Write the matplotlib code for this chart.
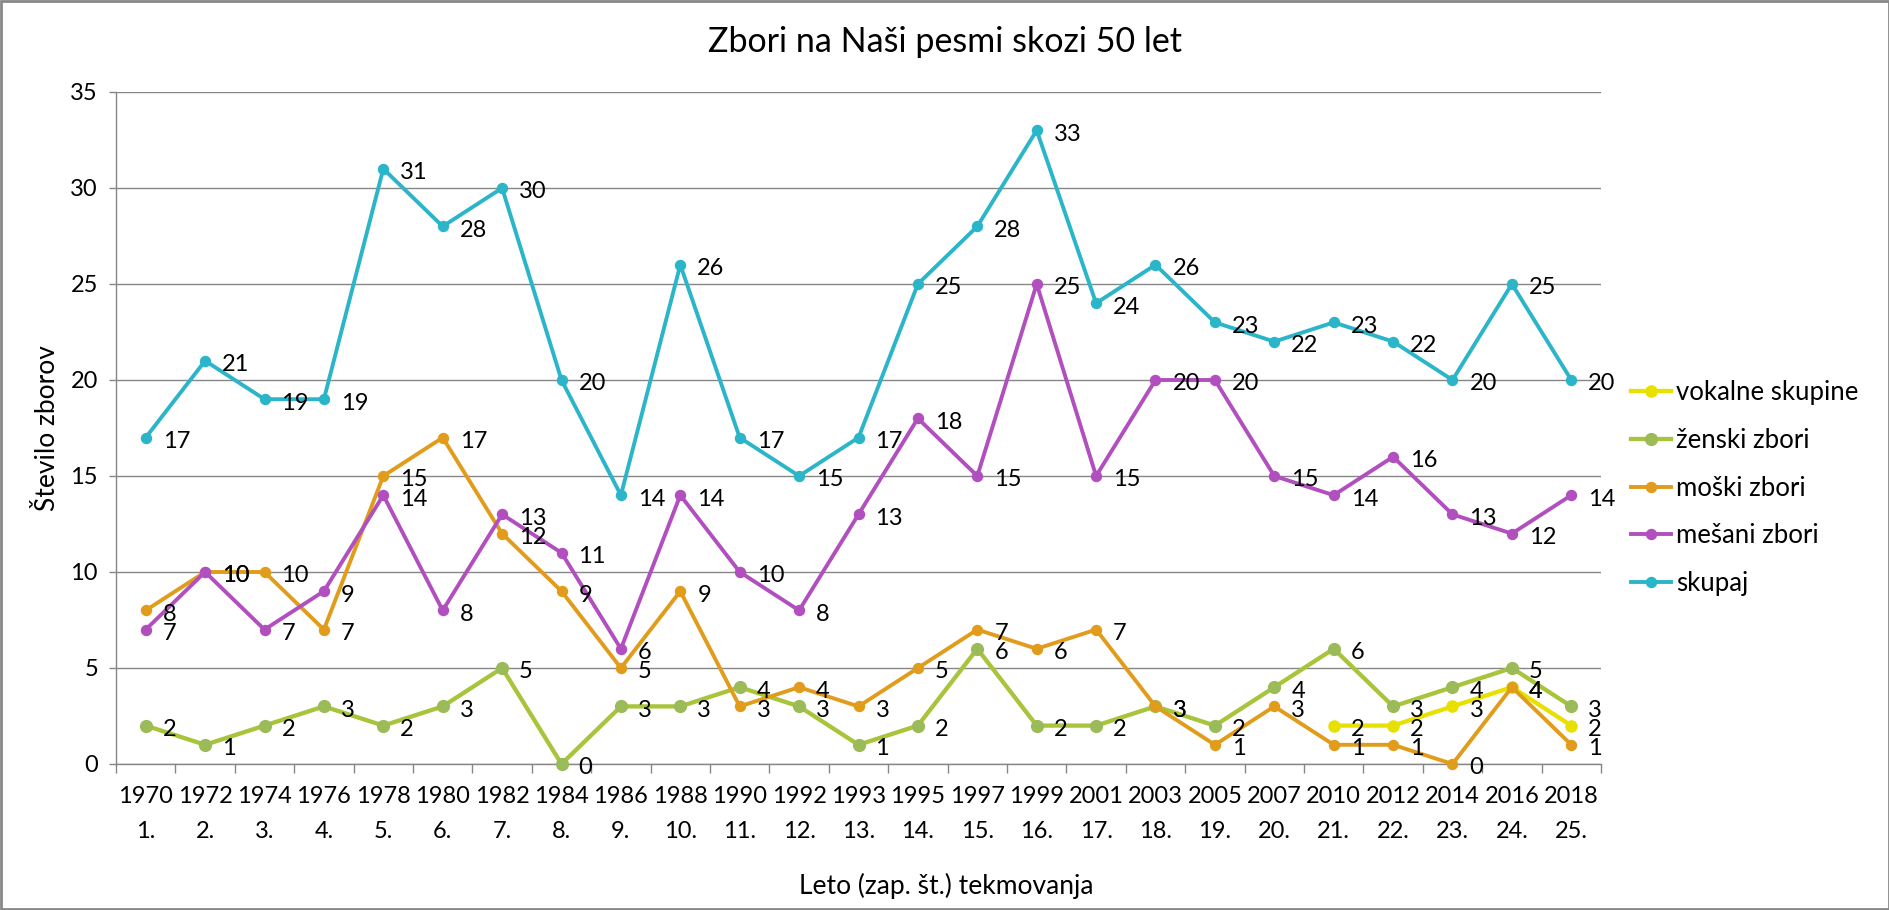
import matplotlib
matplotlib.use("Agg")
import matplotlib.pyplot as plt
from matplotlib.lines import Line2D
from matplotlib.patches import Rectangle
import numpy as np

plt.rcParams['font.family'] = ['Lato', 'DejaVu Sans']

# ---------------- data ----------------
years = ["1970", "1972", "1974", "1976", "1978", "1980", "1982", "1984", "1986", "1988",
         "1990", "1992", "1993", "1995", "1997", "1999", "2001", "2003", "2005", "2007",
         "2010", "2012", "2014", "2016", "2018"]
editions = ["1.", "2.", "3.", "4.", "5.", "6.", "7.", "8.", "9.", "10.",
            "11.", "12.", "13.", "14.", "15.", "16.", "17.", "18.", "19.", "20.",
            "21.", "22.", "23.", "24.", "25."]

vokalne = [None] * 20 + [2, 2, 3, 4, 2]
zenski = [2, 1, 2, 3, 2, 3, 5, 0, 3, 3, 4, 3, 1, 2, 6, 2, 2, 3, 2, 4, 6, 3, 4, 5, 3]
moski = [8, 10, 10, 7, 15, 17, 12, 9, 5, 9, 3, 4, 3, 5, 7, 6, 7, 3, 1, 3, 1, 1, 0, 4, 1]
mesani = [7, 10, 7, 9, 14, 8, 13, 11, 6, 14, 10, 8, 13, 18, 15, 25, 15, 20, 20, 15, 14, 16, 13, 12, 14]
skupaj = [17, 21, 19, 19, 31, 28, 30, 20, 14, 26, 17, 15, 17, 25, 28, 33, 24, 26, 23, 22, 23, 22, 20, 25, 20]

series_names = ["vokalne skupine", "ženski zbori", "moški zbori", "mešani zbori", "skupaj"]
series_values = [vokalne, zenski, moski, mesani, skupaj]

title = "Zbori na Naši pesmi skozi 50 let"
xlabel = "Leto (zap. št.) tekmovanja"
ylabel = "Število zborov"

# ---------------- styles ----------------
line_colors = ["#E8E000", "#A8C43A", "#E09C1A", "#B14FBE", "#2BB5C8"]
marker_colors = ["#E8E000", "#9BBB59", "#E09C1A", "#B14FBE", "#2BB5C8"]
line_widths = [3.1, 3.1, 2.8, 2.8, 2.8]
marker_sizes = [8.0, 8.5, 7.2, 7.2, 7.2]

W, H = 1890, 910
fig = plt.figure(figsize=(W / 100, H / 100), dpi=100)
fig.patch.set_facecolor("white")

left, right, top, bottom = 116, 1601, 92, 764
ax = fig.add_axes([left / W, 1 - bottom / H, (right - left) / W, (bottom - top) / H])

x = np.arange(len(years))
grid_color = "#868686"

handles = []
for name, vals, lc, mc, lw, ms in zip(series_names, series_values, line_colors,
                                       marker_colors, line_widths, marker_sizes):
    y = np.array([np.nan if v is None else v for v in vals], dtype=float)
    ax.plot(x, y, color=lc, lw=lw, marker="o", markersize=ms,
            markerfacecolor=mc, markeredgecolor=mc, solid_joinstyle="round",
            zorder=3, clip_on=False)
    handles.append(Line2D([0], [0], color=lc, lw=lw, marker="o", markersize=ms,
                          markerfacecolor=mc, markeredgecolor=mc))
    for xi, yi in zip(x, y):
        if np.isnan(yi):
            continue
        ax.annotate(f"{int(yi)}", (xi, yi), xytext=(17, -2), textcoords="offset pixels",
                    ha="left", va="center_baseline", fontsize=17, color="black", zorder=5)

ax.set_xlim(-0.5, len(years) - 0.5)
ax.set_ylim(0, 35)
ax.set_yticks(np.arange(0, 36, 5))
ax.set_xticks(x)
ax.set_xticklabels([f"{yr}\n{ed}" for yr, ed in zip(years, editions)],
                   fontsize=17, linespacing=1.8)
ax.set_xticks(np.arange(-0.5, len(years), 1.0), minor=True)
ax.tick_params(axis="x", which="major", length=0, pad=16)
ax.tick_params(axis="x", which="minor", length=6.5, width=1, color=grid_color)
ax.tick_params(axis="y", which="major", length=5, width=1, color=grid_color, pad=8,
               labelsize=17)

ax.yaxis.grid(True, color=grid_color, lw=1.0)
ax.set_axisbelow(True)
for s in ["top", "right"]:
    ax.spines[s].set_visible(False)
for s in ["left", "bottom"]:
    ax.spines[s].set_color(grid_color)
    ax.spines[s].set_linewidth(1.0)

fig.text(945 / W, 1 - 42 / H, title, ha="center", va="center", fontsize=24.5)
fig.text(946 / W, 1 - 886 / H, xlabel, ha="center", va="center", fontsize=19)
fig.text(48 / W, 1 - 428 / H, ylabel, ha="center", va="center", rotation=90, fontsize=19)

fig.legend(handles, series_names, loc="center left",
           bbox_to_anchor=(1631 / W, 1 - 488 / H), frameon=False,
           fontsize=18.5, handlelength=1.55, handletextpad=0.2,
           labelspacing=0.88, borderpad=0, borderaxespad=0)

# chart-area border
fig.patches.append(Rectangle((1 / W, 1 / H), (W - 2) / W, (H - 2) / H,
                             transform=fig.transFigure, fill=False,
                             edgecolor="#878787", lw=2))

fig.savefig("out.png", dpi=100, facecolor="white")
